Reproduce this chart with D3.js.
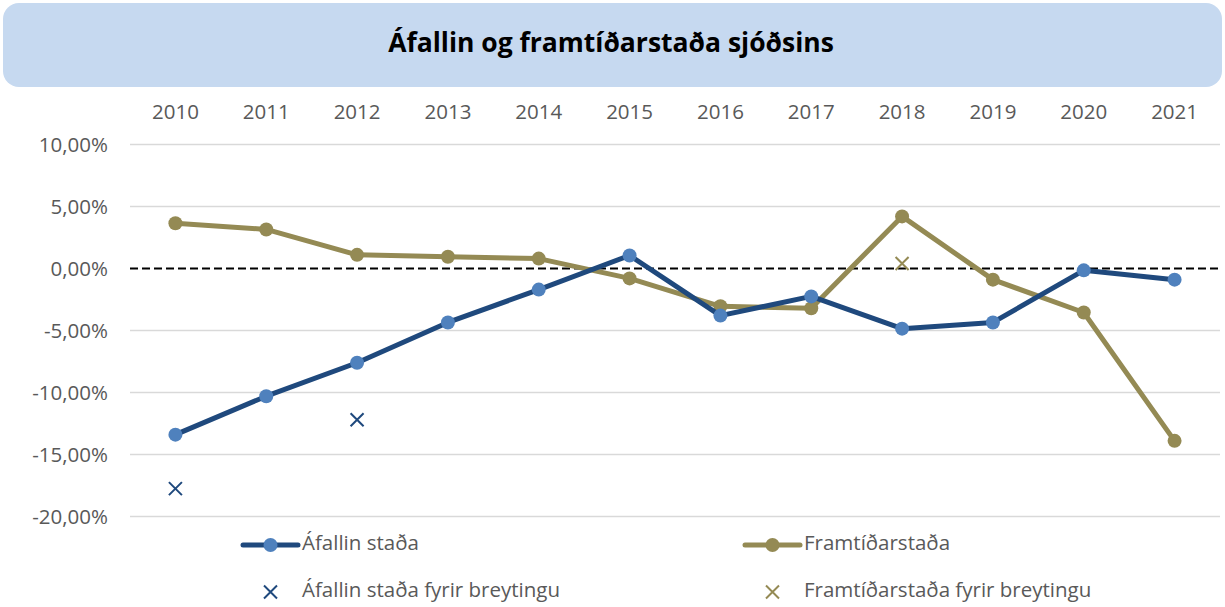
<!DOCTYPE html>
<html>
<head>
<meta charset="utf-8">
<script src="https://cdn.jsdelivr.net/npm/d3@7"></script>
<style>
  body { margin: 0; background: #fff; }
  svg text { font-family: "Open Sans", "Noto Sans", sans-serif; }
</style>
</head>
<body>
<div id="chart"></div>
<script>
// chart data
var years = ["2010", "2011", "2012", "2013", "2014", "2015", "2016", "2017", "2018", "2019", "2020", "2021"];
var afallin = [-13.4, -10.3, -7.6, -4.35, -1.7, 1.05, -3.8, -2.25, -4.85, -4.35, -0.15, -0.9];
var framtid = [3.65, 3.15, 1.1, 0.95, 0.8, -0.8, -3.05, -3.2, 4.2, -0.9, -3.55, -13.9];
var afallinFyrir = [{ year: "2010", value: -17.75 }, { year: "2012", value: -12.2 }];
var framtidFyrir = [{ year: "2018", value: 0.4 }];
var yTicks = [10, 5, 0, -5, -10, -15, -20];
var title = "Áfallin og framtíðarstaða sjóðsins";

var W = 1225, H = 607;
var blue = "#1F497D", blueMarker = "#4F81BD", olive = "#948A54";
var labelSize = "20.5px";

var svg = d3.select("#chart").append("svg")
    .attr("width", W)
    .attr("height", H);

// title box
svg.append("rect")
    .attr("x", 3).attr("y", 3)
    .attr("width", 1219).attr("height", 84)
    .attr("rx", 16)
    .style("fill", "#C6D9F0");
svg.append("text")
    .attr("x", 611).attr("y", 45)
    .attr("text-anchor", "middle")
    .attr("dominant-baseline", "middle")
    .style("font-size", "26.5px")
    .style("font-weight", "bold")
    .style("fill", "#000")
    .text(title);

var x = d3.scaleBand().domain(years).range([130, 1220]);
var y = d3.scaleLinear().domain([-20, 10]).range([516.5, 144.5]);
var cx = function (yr) { return x(yr) + x.bandwidth() / 2; };

// gridlines
svg.append("g").selectAll("line")
    .data(yTicks.filter(function (d) { return d !== 0; }))
  .enter().append("line")
    .attr("x1", 130).attr("x2", 1220)
    .attr("y1", function (d) { return y(d); })
    .attr("y2", function (d) { return y(d); })
    .style("stroke", "#D9D9D9")
    .style("stroke-width", 1.5);

// zero line, dashed
svg.append("line")
    .attr("x1", 130).attr("x2", 1220)
    .attr("y1", y(0)).attr("y2", y(0))
    .style("stroke", "#000")
    .style("stroke-width", 2)
    .style("stroke-dasharray", "8,4");

// y axis
var yAxis = svg.append("g")
    .attr("transform", "translate(122,0)")
    .call(d3.axisLeft(y).tickValues(yTicks).tickSize(0).tickPadding(14)
        .tickFormat(function (d) { return d3.format(".2f")(d).replace(".", ",").replace("\u2212", "-") + "%"; }));
yAxis.select(".domain").remove();
yAxis.selectAll("text")
    .style("font-size", labelSize)
    .style("fill", "#595959");

// x axis on top
var xAxis = svg.append("g")
    .attr("transform", "translate(0,97)")
    .call(d3.axisTop(x).tickSize(0).tickPadding(-22));
xAxis.select(".domain").remove();
xAxis.selectAll("text")
    .style("font-size", labelSize)
    .style("fill", "#595959");

function drawSeries(values, lineColor, markerColor) {
    var pts = values.map(function (v, i) { return { year: years[i], value: v }; });
    var line = d3.line()
        .x(function (d) { return cx(d.year); })
        .y(function (d) { return y(d.value); });
    svg.append("path")
        .datum(pts)
        .attr("d", line)
        .style("fill", "none")
        .style("stroke", lineColor)
        .style("stroke-width", 5)
        .style("stroke-linejoin", "round");
    svg.append("g").selectAll("circle")
        .data(pts)
      .enter().append("circle")
        .attr("cx", function (d) { return cx(d.year); })
        .attr("cy", function (d) { return y(d.value); })
        .attr("r", 7)
        .style("fill", markerColor);
}

function drawCross(g, px, py, color) {
    var s = 6.5;
    g.append("path")
        .attr("d", "M" + (px - s) + "," + (py - s) + "L" + (px + s) + "," + (py + s) +
                   "M" + (px - s) + "," + (py + s) + "L" + (px + s) + "," + (py - s))
        .style("stroke", color)
        .style("stroke-width", 2)
        .style("fill", "none");
}

drawSeries(framtid, olive, olive);
drawSeries(afallin, blue, blueMarker);

var crosses = svg.append("g");
afallinFyrir.forEach(function (d) { drawCross(crosses, cx(d.year), y(d.value), blue); });
framtidFyrir.forEach(function (d) { drawCross(crosses, cx(d.year), y(d.value), olive); });

// legend
var legend = svg.append("g");
var legendItems = [
    { name: "Áfallin staða", x: 243, y: 545, type: "line", color: blue, marker: blueMarker },
    { name: "Framtíðarstaða", x: 745, y: 545, type: "line", color: olive, marker: olive },
    { name: "Áfallin staða fyrir breytingu", x: 243, y: 592, type: "cross", color: blue },
    { name: "Framtíðarstaða fyrir breytingu", x: 745, y: 592, type: "cross", color: olive }
];
legendItems.forEach(function (it) {
    if (it.type === "line") {
        legend.append("line")
            .attr("x1", it.x).attr("x2", it.x + 55)
            .attr("y1", it.y).attr("y2", it.y)
            .style("stroke", it.color)
            .style("stroke-width", 5)
            .style("stroke-linecap", "round");
        legend.append("circle")
            .attr("cx", it.x + 27.5).attr("cy", it.y)
            .attr("r", 7)
            .style("fill", it.marker);
    } else {
        drawCross(legend, it.x + 27.5, it.y, it.color);
    }
    legend.append("text")
        .attr("x", it.x + 59).attr("y", it.y)
        .attr("dominant-baseline", "middle")
        .style("font-size", labelSize)
        .style("fill", "#595959")
        .text(it.name);
});
</script>
</body>
</html>
